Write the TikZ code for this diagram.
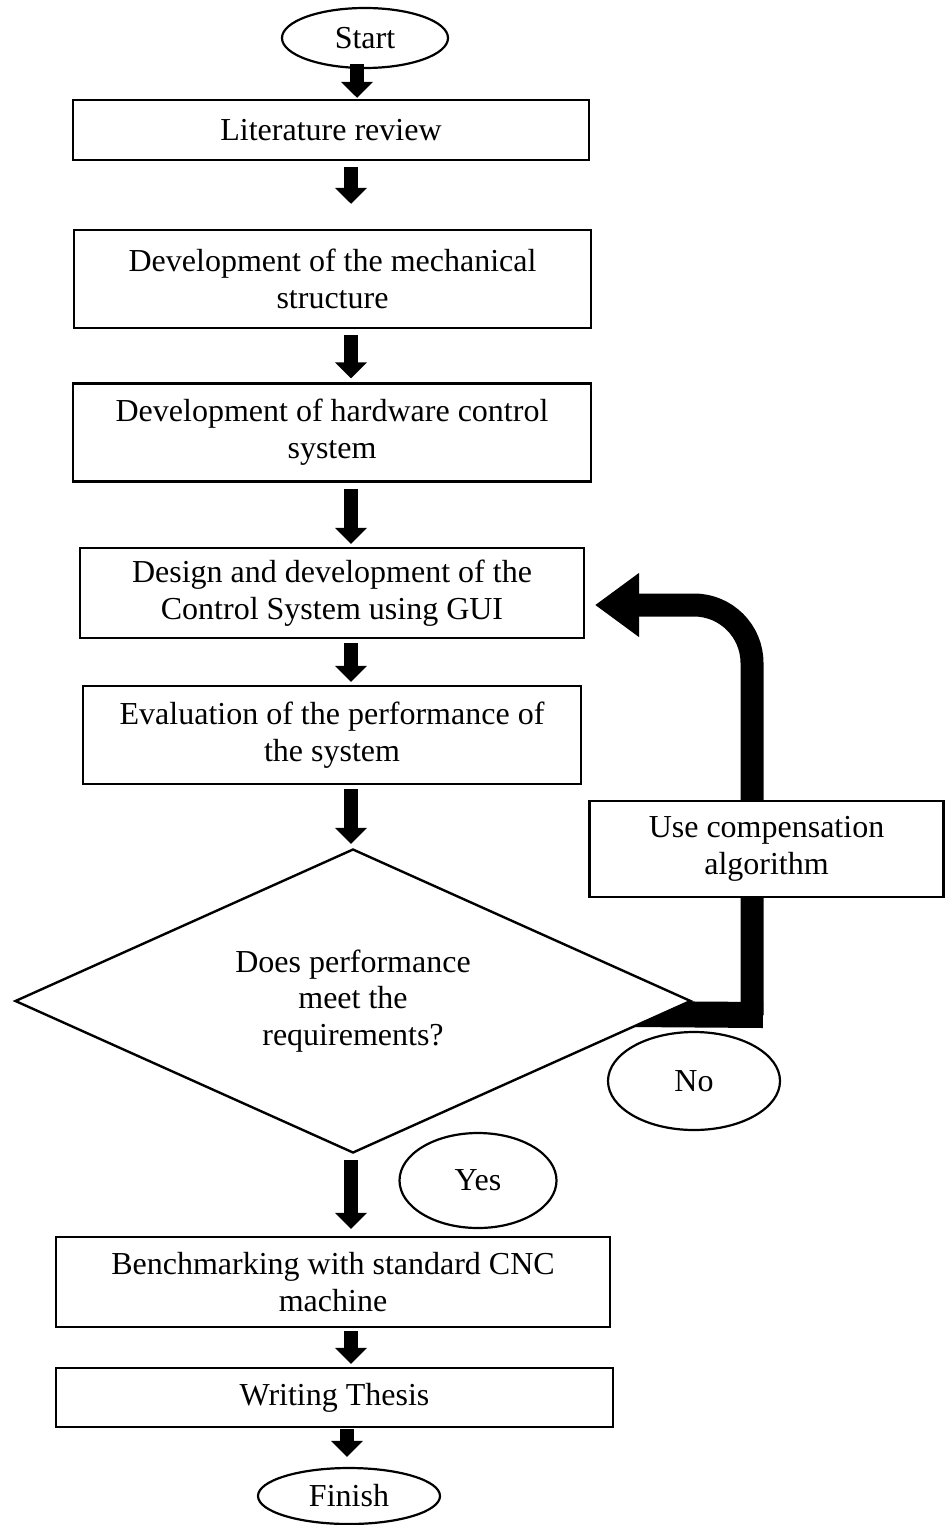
\documentclass[tikz,border=0pt]{standalone}
\usepackage{fontspec}
\setmainfont{Liberation Serif}
\usetikzlibrary{shapes.geometric}
\usetikzlibrary{arrows.meta}
\usetikzlibrary{backgrounds}
\newcommand\boxfont{\fontsize{16}{18.4}\selectfont}
\tikzset{
  box/.style = {draw, line width = 1.2pt, fill = white, align = center,
    inner sep = 2pt},
  oval/.style = {draw, ellipse, line width = 1.1pt, fill = white,
    inner sep = 0pt},
  flow/.style = {line width = 7pt, -{Triangle[width = 15.5pt, length = 8pt]}},
  backloop/.style = {line width = 11.5pt, rounded corners = 29pt,
    -{Triangle[width = 30.5pt, length = 22pt]}}
}

\begin{document}
\begin{tikzpicture}[x = 0.5pt, y = -0.5pt, font = \boxfont]
  \useasboundingbox (0, 0) rectangle (945, 1525);
  \coordinate (a1) at (357, 0);
  \coordinate (ax) at (351, 0);
  \coordinate (a9) at (347, 0);

  \node[oval, minimum width = 83pt, minimum height = 30pt] (start) at (365, 38) {Start};
  \node[box, minimum width = 258pt, minimum height = 30pt] (lit) at (331, 130)
    {Literature review};
  \node[box, minimum width = 258.5pt, minimum height = 49pt] (mech) at (332.5, 279)
    {Development of the mechanical\\structure};
  \node[box, minimum width = 259pt, minimum height = 49pt] (hw) at (332, 432.5)
    {Development of hardware control\\system};
  \node[box, minimum width = 252pt, minimum height = 45pt] (gui) at (332, 593)
    {Design and development of the\\Control System using GUI};
  \node[box, minimum width = 249pt, minimum height = 49pt] (eval) at (332, 735)
    {Evaluation of the performance of\\the system};

  \node[draw, diamond, line width = 1.2pt, fill = white, align = center, inner sep = 0pt,
    shape aspect = 2.2, minimum width = 338pt, minimum height = 152pt] (check) at (353, 1001)
    {Does performance\\meet the\\requirements?};

  \node[box, minimum width = 177pt, minimum height = 48pt] (comp) at (766.5, 849)
    {Use compensation\\algorithm};
  \node[oval, minimum width = 86pt, minimum height = 49pt] (no) at (694, 1081) {No};
  \node[oval, minimum width = 78.5pt, minimum height = 47.5pt] (yes) at (478, 1180.5) {Yes};

  \node[box, minimum width = 277pt, minimum height = 45pt] (bench) at (333, 1282)
    {Benchmarking with standard CNC\\machine};
  \node[box, minimum width = 278.5pt, minimum height = 29.5pt] (thesis) at (334.5, 1397.5)
    {Writing Thesis};
  \node[oval, minimum width = 91pt, minimum height = 28pt] (finish) at (349, 1496) {Finish};

  % loop back, kept behind the diamond and the compensation box
  \coordinate (loopc) at (752, 1015);
  \coordinate (tip) at (595, 605);
  \begin{scope}[on background layer]
    \draw[line width = 13pt] ([xshift = -31pt, yshift = -6.5pt]check.east) -- (763, 1015);
    \draw[backloop] (loopc) |- (tip);
  \end{scope}

  \draw[flow, shorten < = -2.5pt, shorten > = 0.5pt] (start.south -| a1) -- (lit.north -| a1);
  \draw[flow, shorten < = 3pt, shorten > = 12.5pt] (lit.south -| ax) -- (mech.north -| ax);
  \draw[flow, shorten < = 3pt, shorten > = 2pt] (mech.south -| ax) -- (hw.north -| ax);
  \draw[flow, shorten < = 3pt, shorten > = 1.5pt] (hw.south -| ax) -- (gui.north -| ax);
  \draw[flow, shorten < = 2pt, shorten > = 1.5pt] (gui.south -| ax) -- (eval.north -| ax);
  \draw[flow, shorten < = 2pt, shorten > = 2pt] (eval.south -| ax) -- (check.north -| ax);
  \draw[flow, shorten < = 3pt, shorten > = 3.5pt] (check.south -| ax) -- (bench.north -| ax);
  \draw[flow, shorten < = 1.5pt, shorten > = 1.5pt] (bench.south -| ax) -- (thesis.north -| ax);
  \draw[flow, shorten < = 0.5pt, shorten > = 5pt] (thesis.south -| a9) -- (finish.north -| a9);
\end{tikzpicture}
\end{document}
